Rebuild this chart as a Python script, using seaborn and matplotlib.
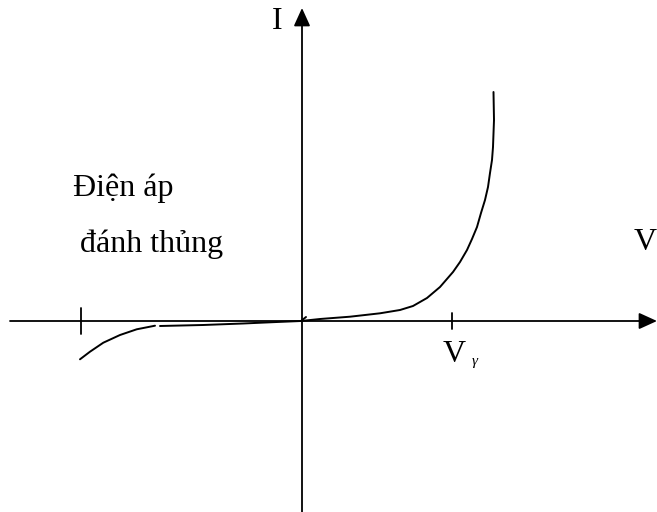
import matplotlib
matplotlib.use("Agg")
import matplotlib.pyplot as plt
import seaborn as sns
import pandas as pd

# Đặc tuyến V-A của diode (đơn vị tùy ý, gốc tại giao hai trục)
fwd_v = [0.0, 0.19, 0.49, 0.79, 0.99, 1.12, 1.26, 1.39, 1.52, 1.59, 1.66, 1.71,
         1.76, 1.80, 1.84, 1.87, 1.89, 1.91, 1.92, 1.93, 1.925]
fwd_i = [0.0, 0.02, 0.043, 0.077, 0.11, 0.15, 0.23, 0.34, 0.49, 0.59, 0.71, 0.82,
         0.94, 1.08, 1.21, 1.34, 1.48, 1.61, 1.74, 2.01, 2.29]

rev_v = [-1.41, -0.98, -0.58, -0.24, 0.0, 0.05]
rev_i = [-0.05, -0.04, -0.025, -0.01, 0.0, 0.04]

brk_v = [-2.21, -2.11, -1.977, -1.81, -1.643, -1.46]
brk_i = [-0.383, -0.307, -0.217, -0.14, -0.083, -0.047]

v_breakdown = -2.20
v_gamma = 1.51

sns.set_style("white")
plt.rcParams['font.family'] = ['Liberation Serif', 'DejaVu Serif']
plt.rcParams['text.color'] = 'black'

fig = plt.figure(figsize=(6.57, 5.12), dpi=100)
ax = fig.add_axes([0, 0, 1, 1])
ax.set_xlim(-3.01, 3.56)
ax.set_ylim(-1.91, 3.21)
ax.axis("off")

# trục tọa độ
arrow = dict(arrowstyle="-|>,head_length=0.55,head_width=0.25", mutation_scale=20,
             lw=1.3, color="black", shrinkA=0, shrinkB=0)
ax.annotate("", xy=(3.56, 0.0), xytext=(-2.91, 0.0), arrowprops=arrow,
            annotation_clip=False)
ax.annotate("", xy=(0.01, 3.13), xytext=(0.01, -1.95), arrowprops=arrow,
            annotation_clip=False)

# vạch chia
ax.plot([v_breakdown, v_breakdown], [0.13, -0.13], color="black", lw=1.3)
ax.plot([v_gamma, v_gamma], [0.08, -0.08], color="black", lw=1.3)

# đường cong
for xs, ys in [(fwd_v, fwd_i), (rev_v, rev_i), (brk_v, brk_i)]:
    df = pd.DataFrame({"V": xs, "I": ys})
    sns.lineplot(data=df, x="V", y="I", sort=False, estimator=None,
                 color="black", lw=1.4, ax=ax)
ax.set_xlabel("")
ax.set_ylabel("")

fs = 23
ax.text(-0.29, 2.92, "I", fontsize=fs, va="baseline", ha="left")
ax.text(3.33, 0.71, "V", fontsize=fs, va="baseline", ha="left")
ax.text(1.42, -0.41, "V", fontsize=fs, va="baseline", ha="left")
ax.text(1.71, -0.44, "γ", fontsize=11, fontstyle="italic", va="baseline", ha="left")
ax.text(-2.28, 1.25, "Điện áp", fontsize=fs, va="baseline", ha="left")
ax.text(-2.21, 0.69, "đánh thủng", fontsize=fs, va="baseline", ha="left")

plt.savefig("out.png", dpi=100)
plt.close()
